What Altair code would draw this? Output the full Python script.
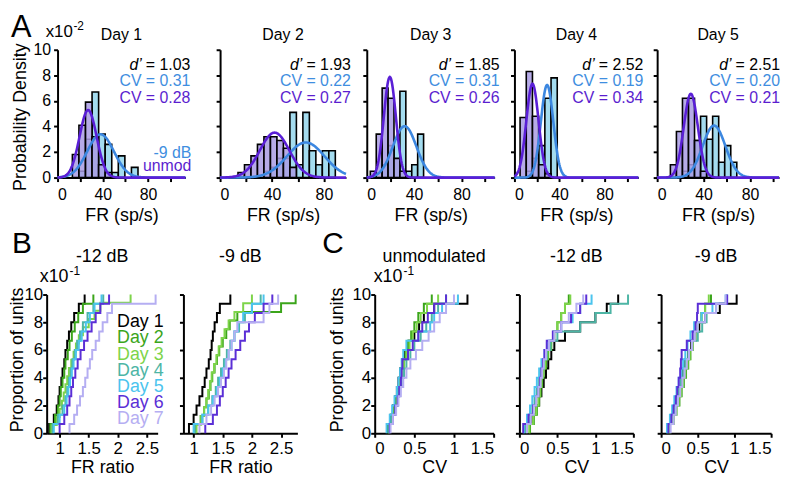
import altair as alt
import pandas as pd
import numpy as np

FONT = "Liberation Sans"

# ---------------- Panel A data ----------------
A_DAYS = ["Day 1", "Day 2", "Day 3", "Day 4", "Day 5"]
A_DPRIME = ["1.03", "1.93", "1.85", "2.52", "2.51"]
A_CV_9DB = ["0.31", "0.22", "0.31", "0.19", "0.20"]
A_CV_UNMOD = ["0.28", "0.27", "0.26", "0.34", "0.21"]
A_MEAN_9DB = [38, 66, 32, 29, 49]
A_MEAN_UNMOD = [27, 42, 19.5, 16, 29]
A_XMAX = [113, 97, 108, 110, 105]
A_BIN_ORIGIN = [13.1, 8.8, 3.0, 5.0, 11.4]
A_BIN_WIDTH = [5.8, 5.0, 5.0, 5.5, 5.2]
A_HIST_9DB = [
    [0, 0.5, 3.0, 6.7, 3.4, 2.6, 0.4, 1.7, 0, 0.8],
    [0, 0, 0, 0, 0, 0.5, 0.8, 1.5, 1.5, 5.1, 1.0, 5.1, 2.1, 1.0, 2.1, 2.1],
    [0, 0, 1.0, 2.5, 3.0, 6.75, 0.5, 1.0, 3.4, 0],
    [0, 0.5, 1.5, 2.5, 6.2, 7.8],
    [0, 0, 0.5, 1.0, 2.9, 4.8, 3.0, 4.8, 1.2, 2.5, 1.2],
]
A_HIST_UNMOD = [
    [1.8, 4.1, 5.9, 3.2, 1.0, 0.4],
    [0, 0.4, 1.0, 1.7, 2.6, 3.2, 3.2, 2.9, 2.3, 0.8],
    [0.5, 3.4, 7.0, 6.2, 1.5, 0.5],
    [4.7, 8.3, 4.8, 1.0, 0.3],
    [1.0, 3.6, 6.2, 6.2, 2.9, 0.5],
]

# ---------------- Panels B / C data (unit values) ----------------
DAYS = ["Day 1", "Day 2", "Day 3", "Day 4", "Day 5", "Day 6", "Day 7"]
DAY_COLORS = ["#000000", "#3ba51b", "#7dd44a", "#4db5a5", "#4bc4ee", "#5b2fd6", "#b5aef2"]

B_12DB = [
    [0.82, 0.9, 0.95, 0.98, 1.0, 1.03, 1.05, 1.08, 1.1, 1.13, 1.16, 1.2, 1.25, 1.33, 1.43],
    [0.84, 0.92, 0.97, 1.0, 1.02, 1.05, 1.08, 1.1, 1.14, 1.17, 1.21, 1.26, 1.32, 1.4, 1.58],
    [0.86, 0.95, 1.0, 1.04, 1.07, 1.1, 1.13, 1.16, 1.2, 1.24, 1.28, 1.33, 1.4, 1.5, 1.6, 1.7, 2.22],
    [0.88, 0.97, 1.05, 1.1, 1.13, 1.16, 1.19, 1.22, 1.26, 1.3, 1.35, 1.4, 1.48, 1.58, 1.75],
    [0.9, 1.0, 1.08, 1.12, 1.15, 1.18, 1.21, 1.24, 1.28, 1.33, 1.38, 1.45, 1.52, 1.6, 1.72],
    [1.0, 1.08, 1.13, 1.17, 1.2, 1.23, 1.27, 1.31, 1.36, 1.42, 1.48, 1.55, 1.62, 1.7, 1.85],
    [1.17, 1.25, 1.3, 1.35, 1.4, 1.44, 1.48, 1.52, 1.56, 1.62, 1.68, 1.74, 1.82, 1.9, 2.65],
]
B_9DB = [
    [0.92, 1.0, 1.05, 1.1, 1.15, 1.19, 1.22, 1.26, 1.29, 1.31, 1.33, 1.36, 1.4, 1.45, 1.63],
    [1.03, 1.12, 1.18, 1.22, 1.26, 1.29, 1.32, 1.36, 1.4, 1.44, 1.5, 1.56, 1.62, 1.75, 2.5, 2.75],
    [1.05, 1.13, 1.18, 1.22, 1.25, 1.28, 1.31, 1.35, 1.39, 1.43, 1.48, 1.53, 1.6, 1.7, 1.85, 2.0],
    [1.02, 1.15, 1.25, 1.32, 1.38, 1.42, 1.47, 1.52, 1.57, 1.63, 1.7, 1.78, 1.88, 2.0, 2.15],
    [1.0, 1.15, 1.25, 1.33, 1.4, 1.45, 1.5, 1.55, 1.6, 1.65, 1.7, 1.76, 1.85, 2.0, 2.2],
    [1.2, 1.33, 1.4, 1.45, 1.5, 1.55, 1.6, 1.65, 1.72, 1.8, 1.88, 1.95, 2.05, 2.2, 2.35],
    [1.1, 1.22, 1.3, 1.36, 1.42, 1.47, 1.52, 1.56, 1.6, 1.65, 1.7, 1.75, 2.2, 2.3, 2.45],
]
C_UNMOD = [
    [0.16, 0.2, 0.23, 0.26, 0.28, 0.3, 0.32, 0.35, 0.38, 0.43, 0.5, 0.56, 0.62, 0.75, 1.17],
    [0.17, 0.21, 0.24, 0.27, 0.29, 0.31, 0.33, 0.36, 0.39, 0.42, 0.46, 0.5, 0.55, 0.62, 0.72],
    [0.18, 0.22, 0.25, 0.28, 0.3, 0.32, 0.34, 0.37, 0.4, 0.44, 0.48, 0.53, 0.58, 0.66, 0.8],
    [0.18, 0.22, 0.26, 0.29, 0.31, 0.34, 0.37, 0.4, 0.45, 0.5, 0.58, 0.65, 0.72, 0.8, 0.9],
    [0.15, 0.19, 0.22, 0.25, 0.28, 0.3, 0.32, 0.34, 0.36, 0.4, 0.55, 0.7, 0.75, 0.85, 1.05],
    [0.19, 0.23, 0.26, 0.29, 0.31, 0.33, 0.34, 0.35, 0.42, 0.48, 0.55, 0.6, 0.67, 0.75, 0.9],
    [0.2, 0.23, 0.27, 0.3, 0.33, 0.36, 0.4, 0.45, 0.52, 0.6, 0.68, 0.75, 0.82, 0.9, 1.0],
]
C_12DB = [
    [0.1, 0.17, 0.22, 0.26, 0.29, 0.32, 0.35, 0.38, 0.42, 0.46, 0.6, 0.8, 1.0, 1.15, 1.3],
    [0.14, 0.19, 0.23, 0.26, 0.28, 0.3, 0.32, 0.35, 0.38, 0.42, 0.46, 0.5, 0.55, 0.6, 0.65],
    [0.13, 0.18, 0.22, 0.25, 0.27, 0.29, 0.31, 0.34, 0.37, 0.41, 0.45, 0.5, 0.55, 0.6, 0.67],
    [0.08, 0.13, 0.17, 0.2, 0.23, 0.26, 0.29, 0.32, 0.36, 0.41, 0.5, 0.8, 1.0, 1.2, 1.43],
    [0.06, 0.1, 0.14, 0.17, 0.2, 0.23, 0.26, 0.29, 0.33, 0.38, 0.45, 0.55, 0.7, 0.8, 0.95],
    [0.05, 0.12, 0.18, 0.22, 0.25, 0.27, 0.29, 0.31, 0.33, 0.36, 0.44, 0.55, 0.68, 0.8, 0.88],
    [0.1, 0.15, 0.19, 0.22, 0.25, 0.28, 0.3, 0.32, 0.35, 0.39, 0.46, 0.55, 0.65, 0.75, 0.84],
]
C_9DB = [
    [0.1, 0.15, 0.18, 0.21, 0.24, 0.27, 0.3, 0.33, 0.37, 0.41, 0.46, 0.52, 0.6, 0.8, 1.03],
    [0.12, 0.17, 0.21, 0.25, 0.28, 0.31, 0.34, 0.37, 0.4, 0.43, 0.47, 0.5, 0.55, 0.6, 0.68],
    [0.11, 0.16, 0.2, 0.24, 0.27, 0.3, 0.33, 0.36, 0.39, 0.42, 0.46, 0.5, 0.55, 0.6, 0.65],
    [0.09, 0.14, 0.18, 0.21, 0.24, 0.27, 0.3, 0.33, 0.37, 0.42, 0.5, 0.56, 0.62, 0.75, 0.9],
    [0.08, 0.12, 0.15, 0.18, 0.21, 0.24, 0.27, 0.3, 0.33, 0.36, 0.4, 0.45, 0.55, 0.7, 0.88],
    [0.1, 0.14, 0.17, 0.2, 0.22, 0.24, 0.26, 0.27, 0.28, 0.35, 0.43, 0.47, 0.49, 0.5, 0.9],
    [0.13, 0.17, 0.2, 0.23, 0.26, 0.29, 0.32, 0.35, 0.38, 0.42, 0.46, 0.5, 0.6, 0.75, 0.88],
]

# ---------------- styling ----------------
BLUE_FILL = "#a4dcef"
PURPLE_FILL = "#a99ce3"
BLUE_LINE = "#3c87e0"
PURPLE_LINE = "#5a1fd6"
BLUE_TEXT = "#3f8ee0"
PURPLE_TEXT = "#5b1ecf"

A_W = [129, 127, 129, 125, 123]
A_GAPS = [11, 35, 21, 20, 19]      # leading spacer, then gaps between panels
A_H = 129
B_H = 140


def txt(text, x, y, size=16, color="black", align="left", style="normal", angle=0):
    return alt.Chart(pd.DataFrame({"a": [0]})).mark_text(
        text=text, align=align, baseline="alphabetic", font=FONT, fontSize=size,
        color=color, fontStyle=style, angle=angle,
    ).encode(x=alt.value(x), y=alt.value(y))


def spacer(w, h):
    return alt.Chart(pd.DataFrame({"v": [0]})).mark_point(opacity=0).encode(
        x=alt.X("v:Q", axis=None), y=alt.Y("v:Q", axis=None)
    ).properties(width=w, height=h)


def a_panel(i):
    xmax = A_XMAX[i]
    w = A_W[i]
    xdef = alt.X("x:Q", scale=alt.Scale(domain=[0, xmax], nice=False, zero=False),
                 axis=alt.Axis(values=[0, 20, 40, 60, 80, 100], title="FR (sp/s)",
                               labelExpr="datum.value % 40 == 0 ? datum.label : ''",
                               labelFontSize=16, titleFontSize=18, labelPadding=5,
                               titlePadding=4))
    yaxis = alt.Axis(values=[0, 2, 4, 6, 8, 10], labels=(i == 0), title=None,
                     labelFontSize=16, labelPadding=3)
    ydef = alt.Y("y:Q", scale=alt.Scale(domain=[0, 10], nice=False), axis=yaxis)

    def hist_df(heights):
        o, bw = A_BIN_ORIGIN[i], A_BIN_WIDTH[i]
        rows = [(o + k * bw, o + (k + 1) * bw, h) for k, h in enumerate(heights) if h > 0]
        return pd.DataFrame(rows, columns=["x", "x2", "y"])

    def curve_df(mean, cv):
        xs = np.arange(0, xmax + 0.01, 0.5)
        sd = mean * float(cv)
        ys = 100.0 / (sd * np.sqrt(2 * np.pi)) * np.exp(-0.5 * ((xs - mean) / sd) ** 2)
        return pd.DataFrame({"x": xs, "y": ys})

    h9 = alt.Chart(hist_df(A_HIST_9DB[i])).mark_rect(
        fill=BLUE_FILL, stroke="black", strokeWidth=1.6
    ).encode(x=xdef, x2="x2:Q", y=ydef, y2=alt.datum(0))
    hu = alt.Chart(hist_df(A_HIST_UNMOD[i])).mark_rect(
        fill=PURPLE_FILL, fillOpacity=0.85, stroke="black", strokeWidth=1.6
    ).encode(x=xdef, x2="x2:Q", y=ydef, y2=alt.datum(0))
    c9 = alt.Chart(curve_df(A_MEAN_9DB[i], A_CV_9DB[i])).mark_line(
        color=BLUE_LINE, strokeWidth=2.6).encode(x=xdef, y=ydef)
    cu = alt.Chart(curve_df(A_MEAN_UNMOD[i], A_CV_UNMOD[i])).mark_line(
        color=PURPLE_LINE, strokeWidth=2.6).encode(x=xdef, y=ydef)

    rx = w + 5 if i < 4 else w + 1
    layers = [h9, hu, c9, cu,
              txt(A_DAYS[i], w / 2, -10, align="center"),
              txt("= " + A_DPRIME[i], rx, 20, align="right"),
              txt("d\u2019", rx - 49, 20, align="right", style="italic"),
              txt("CV = " + A_CV_9DB[i], rx, 37, color=BLUE_TEXT, align="right"),
              txt("CV = " + A_CV_UNMOD[i], rx, 54, color=PURPLE_TEXT, align="right")]
    if i == 0:
        layers += [txt("A", -47, -13, size=31),
                   txt("x10", -12, -13, size=17),
                   txt("-2", 16, -20, size=12),
                   txt("Probability Density", -32, 68, size=18, align="center", angle=270),
                   txt("-9 dB", w + 6, 109, color=BLUE_TEXT, align="right"),
                   txt("unmod", w + 6, 122, color=PURPLE_TEXT, align="right")]
    return alt.layer(*layers).properties(width=w, height=A_H)


def ecdf_df(samples):
    rows = []
    for day, vals in zip(DAYS, samples):
        s = sorted(vals)
        n = len(s)
        rows.append((day, s[0], 0.0, 0))
        for j, v in enumerate(s):
            rows.append((day, v, 10.0 * (j + 1) / n, j + 1))
    return pd.DataFrame(rows, columns=["day", "x", "y", "order"])


def cdf_panel(samples, title, domain, ticks, xtitle, w, show_y, extra=()):
    xdef = alt.X("x:Q", scale=alt.Scale(domain=domain, nice=False, zero=False),
                 axis=alt.Axis(values=ticks, format="~g", title=xtitle,
                               labelFontSize=17, titleFontSize=18, labelPadding=3,
                               titlePadding=3))
    ydef = alt.Y("y:Q", scale=alt.Scale(domain=[0, 10], nice=False),
                 axis=alt.Axis(values=[0, 2, 4, 6, 8, 10], labels=show_y, title=None,
                               labelFontSize=17, labelPadding=0))
    lines = alt.Chart(ecdf_df(samples)).mark_line(
        interpolate="step-after", strokeWidth=2
    ).encode(
        x=xdef, y=ydef,
        color=alt.Color("day:N", scale=alt.Scale(domain=DAYS, range=DAY_COLORS), legend=None),
        order="order:Q",
    )
    head = txt(title, w / 2, -33, size=18, align="center")
    return alt.layer(lines, head, *extra).properties(width=w, height=B_H)


legend = [txt(d, 118, 33 + 16.3 * k, size=18, color=c, align="right")
          for k, (d, c) in enumerate(zip(DAYS, DAY_COLORS))]
b1_extra = [txt("B", -35, -42, size=30), txt("x10", -7, -13, size=18),
            txt("-1", 23, -20, size=12),
            txt("Proportion of units", -24, 66, size=18, align="center", angle=270)] + legend
c1_extra = [txt("C", -53, -42, size=30), txt("x10", -1, -13, size=18),
            txt("-1", 29, -20, size=12),
            txt("Proportion of units", -32, 66, size=18, align="center", angle=270)]

B1 = cdf_panel(B_12DB, "-12 dB", [0.777, 2.685], [1, 1.5, 2, 2.5], "FR ratio", 112, True, b1_extra)
B2 = cdf_panel(B_9DB, "-9 dB", [0.825, 2.78], [1, 1.5, 2, 2.5], "FR ratio", 115, False)
C1 = cdf_panel(C_UNMOD, "unmodulated", [0, 1.5], [0, 0.5, 1, 1.5], "CV", 120, True, c1_extra)
C2 = cdf_panel(C_12DB, "-12 dB", [0, 1.5], [0, 0.5, 1, 1.5], "CV", 115, False)
C3 = cdf_panel(C_9DB, "-9 dB", [0, 1.5], [0, 0.5, 1, 1.5], "CV", 111, False)

top_cells = []
for i in range(5):
    top_cells += [spacer(A_GAPS[i], A_H), a_panel(i)]
bottom_cells = [B1, spacer(26, B_H), B2, spacer(78, B_H), C1, spacer(26, B_H), C2,
                spacer(28, B_H), C3]

top_row = alt.hconcat(*top_cells, spacing=0, bounds="flush")
bottom_row = alt.hconcat(*bottom_cells, spacing=0, bounds="flush")

chart = alt.vconcat(top_row, bottom_row, spacing=5).properties(
    padding={"left": 0, "top": 2, "right": 0, "bottom": 0}, background="white"
).configure_view(stroke=None).configure_axis(
    grid=False, domainColor="black", domainWidth=2, tickColor="black", tickWidth=2,
    tickSize=4, labelColor="black", labelFont=FONT, titleFont=FONT,
    titleFontWeight="normal", titleColor="black"
)

chart.save("out.html", embed_options={"renderer": "svg", "actions": False})
